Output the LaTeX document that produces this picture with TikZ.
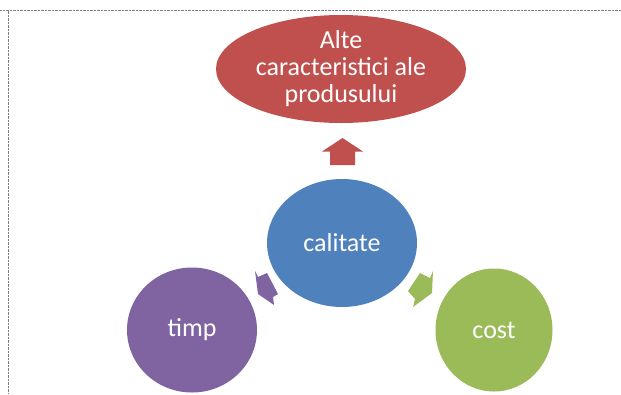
\documentclass[tikz,border=0pt]{standalone}
\usepackage{fontspec}
\setmainfont{Carlito}
\usetikzlibrary{shapes.geometric}
\definecolor{accblue}{HTML}{4F81BD}
\definecolor{accred}{HTML}{C0504D}
\definecolor{accgreen}{HTML}{9BBB59}
\definecolor{accpurple}{HTML}{8064A2}
\tikzset{oval/.style={ellipse, inner sep=0pt, text=white, align=center, font=\fontsize{26}{27}\selectfont}}

\begin{document}
\begin{tikzpicture}[x=1pt,y=-1pt]
\useasboundingbox (0,0) rectangle (621,394);
\draw[gray, densely dotted] (0,10.5)--(621,10.5);
\draw[gray, densely dotted] (8,10.5)--(8,394);

\node[oval, fill=accred, minimum width=250pt, minimum height=108pt] (alte) at (341,69) {Alte\\caracteristici ale\\produsului};
\node[oval, fill=accblue, minimum width=150pt, minimum height=128pt] (calitate) at (342,243) {calitate};
\node[oval, fill=accpurple, minimum width=130pt, minimum height=125pt] (timp) at (192,330) {timp};
\node[oval, fill=accgreen, minimum width=117pt, minimum height=123pt] (cost) at (494,330) {cost};

\fill[accred] (330,165)--(330,151.5)--(322,151.5)--(342.5,138)--(363,151.5)--(355,151.5)--(355,165)--cycle;
\fill[accpurple] (267,273)--(258,277)--(255,271)--(258,294)--(274,305)--(273,297)--(278,294)--cycle;
\fill[accgreen] (420,273)--(430,278)--(433,271)--(432,293)--(413,307)--(415,299)--(408,291)--cycle;

\end{tikzpicture}
\end{document}
